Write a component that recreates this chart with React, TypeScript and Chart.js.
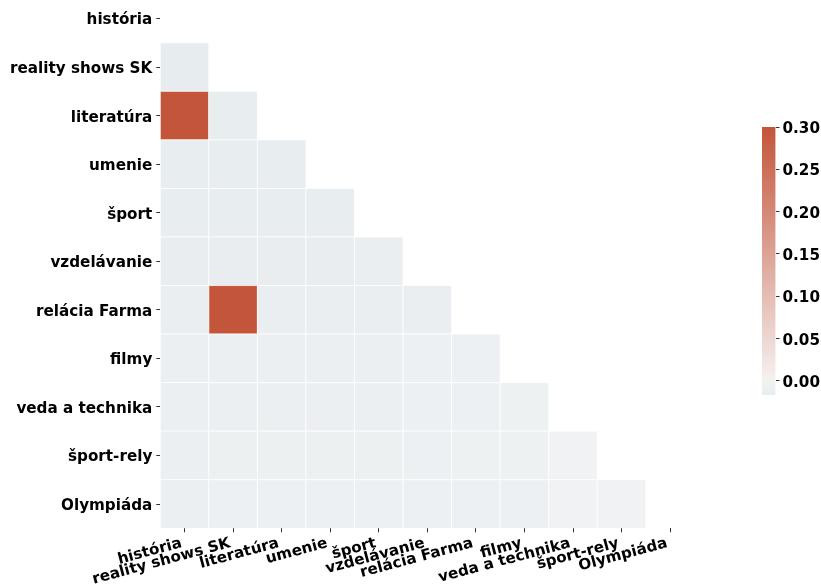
import React, { useEffect, useRef } from "react";
import { Chart, registerables } from "chart.js";

Chart.register(...registerables);

// ---- data ----
const categories: string[] = [
  "história",
  "reality shows SK",
  "literatúra",
  "umenie",
  "šport",
  "vzdelávanie",
  "relácia Farma",
  "filmy",
  "veda a technika",
  "šport-rely",
  "Olympiáda",
];

// lower triangle (row i has i values, columns 0..i-1)
const rowHistoria: number[] = [];
const rowReality: number[] = [-0.0166];
const rowLiteratura: number[] = [0.32, -0.015];
const rowUmenie: number[] = [-0.015, -0.015, -0.015];
const rowSport: number[] = [-0.015, -0.015, -0.015, -0.015];
const rowVzdelavanie: number[] = [-0.014, -0.014, -0.014, -0.014, -0.013];
const rowFarma: number[] = [-0.013, 0.31, -0.013, -0.013, -0.013, -0.012];
const rowFilmy: number[] = [-0.011, -0.011, -0.011, -0.011, -0.011, -0.007, -0.007];
const rowVeda: number[] = [-0.011, -0.009, -0.009, -0.009, -0.009, -0.007, -0.007, -0.006];
const rowSportRely: number[] = [-0.011, -0.008, -0.008, -0.008, -0.008, -0.007, -0.006, -0.005, -0.003];
const rowOlympiada: number[] = [-0.011, -0.007, -0.007, -0.007, -0.007, -0.007, -0.007, -0.007, -0.003, -0.003];

const corrRows: number[][] = [
  rowHistoria,
  rowReality,
  rowLiteratura,
  rowUmenie,
  rowSport,
  rowVzdelavanie,
  rowFarma,
  rowFilmy,
  rowVeda,
  rowSportRely,
  rowOlympiada,
];

const colorbarTicks: number[] = [0, 0.05, 0.1, 0.15, 0.2, 0.25, 0.3];
const vmax = 0.3;
const center = 0;

// ---- colour map (seaborn diverging_palette(230, 20)) ----
type RGB = [number, number, number];
const BLUE: RGB = [59, 126, 161];
const GRAY_NEG: RGB = [240, 242, 243];
const MID: RGB = [242, 242, 242];
const GRAY_POS: RGB = [245, 240, 239];
const RED: RGB = [195, 85, 58];
const anchors: [number, RGB][] = [
  [0, BLUE],
  [127 / 256, GRAY_NEG],
  [128 / 256, MID],
  [129 / 256, GRAY_POS],
  [1, RED],
];

function cmapAt(p: number): string {
  const q = Math.min(1, Math.max(0, p));
  for (let k = 0; k < anchors.length - 1; k++) {
    const [p0, c0] = anchors[k];
    const [p1, c1] = anchors[k + 1];
    if (q <= p1) {
      const t = p1 === p0 ? 0 : (q - p0) / (p1 - p0);
      const c = c0.map((v, i) => Math.round(v + (c1[i] - v) * t));
      return `rgb(${c[0]},${c[1]},${c[2]})`;
    }
  }
  return `rgb(${RED.join(",")})`;
}

const allValues = corrRows.flat();
const vmin = Math.min(...allValues);
const vrange = Math.max(vmax - center, center - vmin);

function colorFor(v: number): string {
  const c = Math.min(Math.max(v, vmin), vmax);
  const p = (c - (center - vrange)) / (2 * vrange);
  return cmapAt(p);
}

const FONT = { family: "'DejaVu Sans', sans-serif", size: 15.2, weight: "bold" as const };

export default function App() {
  const mainRef = useRef<HTMLCanvasElement | null>(null);
  const cbRef = useRef<HTMLCanvasElement | null>(null);

  useEffect(() => {
    if (!mainRef.current || !cbRef.current) return;

    const points: { x: number; y: number; v: number }[] = [];
    corrRows.forEach((row, i) => {
      row.forEach((v, j) => points.push({ x: j, y: i, v }));
    });

    const cellRadius = (ctx: any) => {
      const xs = ctx.chart.scales.x;
      if (!xs) return 20;
      const d = Math.abs(xs.getPixelForValue(1) - xs.getPixelForValue(0));
      return isFinite(d) && d > 0 ? d * Math.SQRT1_2 : 20;
    };

    const main = new Chart(mainRef.current, {
      type: "scatter",
      data: {
        datasets: [
          {
            data: points as any,
            pointStyle: "rect",
            pointRadius: cellRadius,
            pointHoverRadius: cellRadius,
            backgroundColor: (ctx: any) => colorFor(ctx.raw ? ctx.raw.v : 0),
            borderColor: "#ffffff",
            borderWidth: 0.75,
          } as any,
        ],
      },
      options: {
        responsive: false,
        animation: false,
        events: [],
        layout: { autoPadding: false, padding: { left: 0, right: 126.6, top: 0, bottom: 0 } },
        plugins: { legend: { display: false }, tooltip: { enabled: false } },
        scales: {
          x: {
            type: "linear",
            min: -0.5,
            max: 10.5,
            afterBuildTicks: (a: any) => {
              a.ticks = categories.map((_, i) => ({ value: i }));
            },
            afterFit: (s: any) => {
              s.height = 57.7;
              s.paddingLeft = 0;
              s.paddingRight = 0;
            },
            ticks: {
              autoSkip: false,
              minRotation: 15,
              maxRotation: 15,
              padding: 2,
              labelOffset: -3,
              color: "#000",
              font: FONT,
              callback: (_v: any, i: number) => categories[i],
            },
            grid: { drawOnChartArea: false, drawTicks: true, tickLength: 4, tickColor: "#333", tickWidth: 1 },
            border: { display: false },
          },
          y: {
            type: "linear",
            reverse: true,
            min: -0.5 + 5.75 / 48.55,
            max: 10.5,
            afterBuildTicks: (a: any) => {
              a.ticks = categories.map((_, i) => ({ value: i }));
            },
            afterFit: (s: any) => {
              s.width = 160.3;
              s.paddingTop = 0;
              s.paddingBottom = 0;
            },
            ticks: {
              autoSkip: false,
              padding: 4,
              labelOffset: 2,
              color: "#000",
              font: FONT,
              callback: (_v: any, i: number) => categories[i],
            },
            grid: { drawOnChartArea: false, drawTicks: true, tickLength: 4, tickColor: "#333", tickWidth: 1 },
            border: { display: false },
          },
        },
      } as any,
    });

    const cb = new Chart(cbRef.current, {
      type: "bar",
      data: {
        labels: ["cb"],
        datasets: [
          {
            data: [[vmin, vmax]] as any,
            barPercentage: 1,
            categoryPercentage: 1,
            borderWidth: 0,
            backgroundColor: (ctx: any) => {
              const ch = ctx.chart;
              const ys = ch.scales.y;
              if (!ys) return colorFor(vmax);
              const top = ys.getPixelForValue(vmax);
              const bot = ys.getPixelForValue(vmin);
              if (!isFinite(top) || !isFinite(bot) || top === bot) return colorFor(vmax);
              const g = ch.ctx.createLinearGradient(0, bot, 0, top);
              const n = 60;
              for (let k = 0; k <= n; k++) {
                const val = vmin + ((vmax - vmin) * k) / n;
                g.addColorStop(k / n, colorFor(val));
              }
              return g;
            },
          } as any,
        ],
      },
      options: {
        responsive: false,
        animation: false,
        events: [],
        layout: { autoPadding: false, padding: { left: 62, right: 0, top: 27, bottom: 35 } },
        plugins: { legend: { display: false }, tooltip: { enabled: false } },
        scales: {
          x: { display: false },
          y: {
            position: "right",
            min: vmin,
            max: vmax,
            afterBuildTicks: (a: any) => {
              a.ticks = colorbarTicks.map((v) => ({ value: v }));
            },
            afterFit: (s: any) => {
              s.width = 45.5;
            },
            ticks: {
              padding: 3,
              labelOffset: 2,
              color: "#000",
              font: FONT,
              callback: (v: any) => Number(v).toFixed(2),
            },
            grid: { drawOnChartArea: false, drawTicks: true, tickLength: 4, tickColor: "#333", tickWidth: 1 },
            border: { display: false },
          },
        },
      } as any,
    });

    return () => {
      main.destroy();
      cb.destroy();
    };
  }, []);

  return (
    <div style={{ position: "absolute", left: 0, top: 0, width: 821, height: 586, background: "#fff" }}>
      <canvas
        ref={mainRef}
        width={821}
        height={586}
        style={{ position: "absolute", left: 0, top: 0, width: 821, height: 586 }}
      />
      <canvas
        ref={cbRef}
        width={121}
        height={330}
        style={{ position: "absolute", left: 700, top: 100, width: 121, height: 330 }}
      />
    </div>
  );
}
